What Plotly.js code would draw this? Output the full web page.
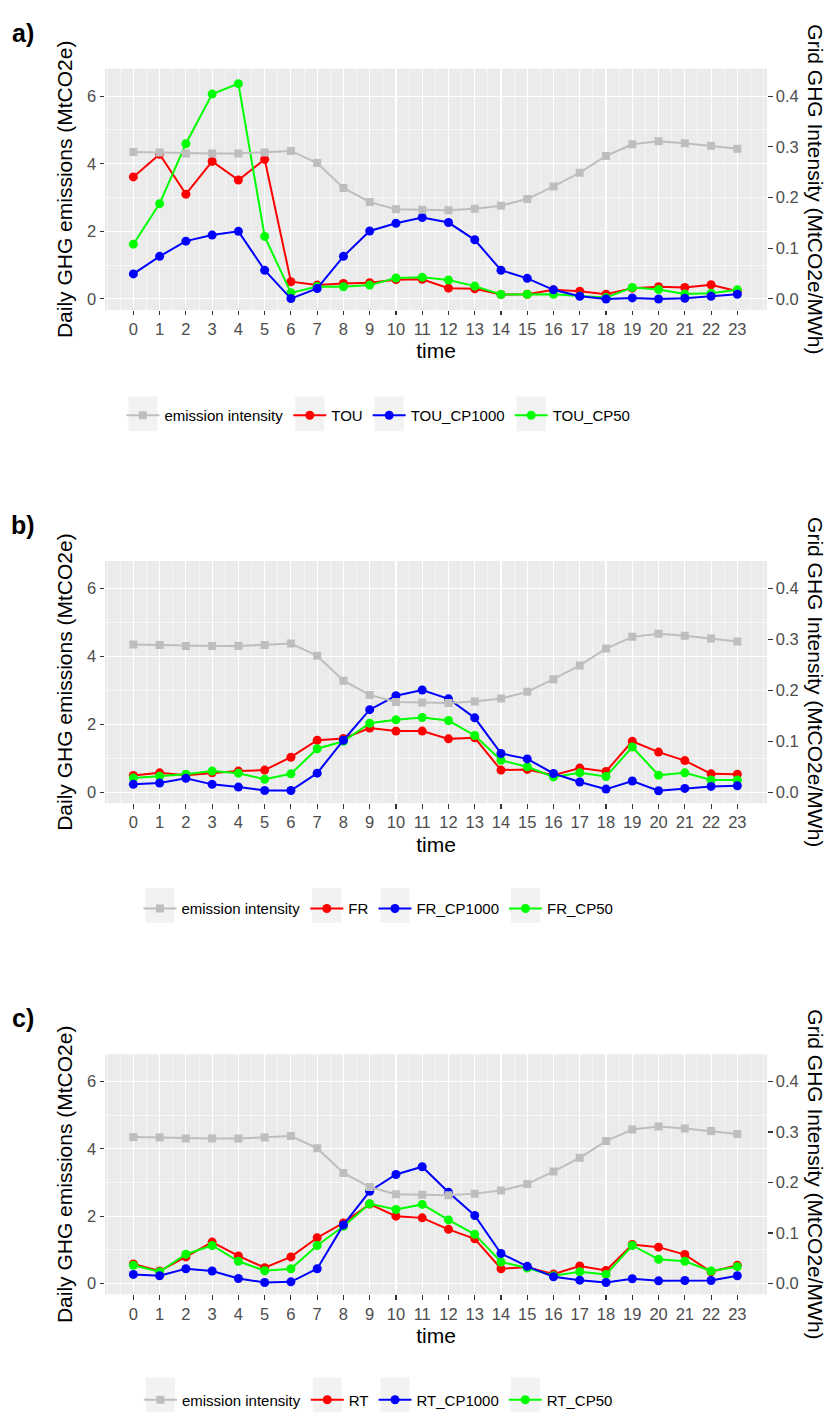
<!DOCTYPE html>
<html>
<head>
<meta charset="utf-8">
<script src="https://cdn.plot.ly/plotly-3.0.1.min.js"></script>
<style>
html,body{margin:0;padding:0;background:#fff;}
#chart{width:829px;height:1417px;}
</style>
</head>
<body>
<div id="chart"></div>
<script>
// ---------- data ----------
const hours = [0,1,2,3,4,5,6,7,8,9,10,11,12,13,14,15,16,17,18,19,20,21,22,23];
const hourLabels = ["0","1","2","3","4","5","6","7","8","9","10","11","12","13","14","15","16","17","18","19","20","21","22","23"];
const intensity = [0.290,0.289,0.287,0.287,0.287,0.289,0.292,0.268,0.219,0.191,0.177,0.176,0.175,0.178,0.184,0.197,0.222,0.249,0.282,0.305,0.311,0.307,0.302,0.296];

const TOU        = [3.61,4.28,3.10,4.07,3.52,4.13,0.51,0.41,0.46,0.48,0.57,0.58,0.32,0.30,0.13,0.14,0.27,0.23,0.14,0.32,0.36,0.34,0.42,0.23];
const TOU_CP1000 = [0.74,1.26,1.71,1.89,2.00,0.85,0.01,0.31,1.26,2.01,2.24,2.41,2.26,1.75,0.85,0.61,0.27,0.08,0.00,0.03,0.00,0.02,0.08,0.14];
const TOU_CP50   = [1.62,2.82,4.59,6.06,6.37,1.85,0.18,0.37,0.36,0.41,0.62,0.64,0.56,0.38,0.13,0.14,0.14,0.09,0.04,0.34,0.28,0.15,0.17,0.27];

const FR         = [0.49,0.57,0.50,0.57,0.62,0.65,1.03,1.53,1.58,1.89,1.80,1.80,1.57,1.60,0.65,0.67,0.50,0.71,0.61,1.50,1.18,0.93,0.54,0.53];
const FR_CP1000  = [0.23,0.27,0.41,0.23,0.15,0.05,0.05,0.56,1.53,2.43,2.84,3.01,2.75,2.19,1.14,0.98,0.55,0.30,0.09,0.33,0.04,0.11,0.17,0.19];
const FR_CP50    = [0.42,0.47,0.53,0.62,0.56,0.38,0.54,1.28,1.50,2.03,2.13,2.20,2.11,1.67,0.94,0.75,0.45,0.57,0.46,1.33,0.50,0.57,0.36,0.36];

const RT         = [0.58,0.37,0.79,1.23,0.82,0.47,0.79,1.36,1.80,2.36,2.00,1.95,1.61,1.33,0.44,0.48,0.28,0.52,0.39,1.16,1.08,0.86,0.35,0.54];
const RT_CP1000  = [0.27,0.23,0.44,0.37,0.15,0.03,0.05,0.44,1.74,2.74,3.24,3.47,2.71,2.02,0.89,0.51,0.20,0.10,0.03,0.14,0.08,0.09,0.09,0.23];
const RT_CP50    = [0.54,0.35,0.87,1.13,0.66,0.38,0.44,1.13,1.70,2.37,2.20,2.35,1.89,1.46,0.64,0.46,0.23,0.35,0.27,1.13,0.72,0.66,0.37,0.50];

const panelLabels = ["a)","b)","c)"];
const panelSeries = [
  [["TOU",TOU],["TOU_CP1000",TOU_CP1000],["TOU_CP50",TOU_CP50]],
  [["FR",FR],["FR_CP1000",FR_CP1000],["FR_CP50",FR_CP50]],
  [["RT",RT],["RT_CP1000",RT_CP1000],["RT_CP50",RT_CP50]]
];

// ---------- styling / layout ----------
const W = 829, H = 1417, ML = 105, MR = 62;
const PW = W - ML - MR;
const FONT = "Liberation Sans, Arial, Helvetica, sans-serif";
const seriesColors = ["#FF0000","#0000FF","#00FF00"];
const greyCol = "#BEBEBE";
const panelPx = [[69,311],[563,806],[1058,1299]];
const legendPx = [417,912,1405];
const yRange = [-0.324, 6.81];
const secFactor = 15;

const traces = [];
const layout = {
  width: W, height: H,
  margin: {l:ML, r:MR, t:0, b:0},
  paper_bgcolor: "#FFFFFF",
  plot_bgcolor: "#EBEBEB",
  font: {family: FONT, color: "#000000"},
  showlegend: true,
  annotations: [],
  hovermode: false
};

for (let i = 0; i < 3; i++) {
  const xName = i === 0 ? "x" : "x" + (i+1);
  const xKey = i === 0 ? "xaxis" : "xaxis" + (i+1);
  const yP = i === 0 ? "y" : "y" + (2*i+1);
  const yPKey = i === 0 ? "yaxis" : "yaxis" + (2*i+1);
  const yS = "y" + (2*i+2);
  const ySKey = "yaxis" + (2*i+2);
  const legName = i === 0 ? "legend" : "legend" + (i+1);
  const dom = [1 - panelPx[i][1]/H, 1 - panelPx[i][0]/H];

  // draw order: red, green, blue, then grey (overlay on top)
  [0,2,1].forEach(k => {
    const [nm, vals] = panelSeries[i][k];
    traces.push({
      type: "scatter", mode: "lines+markers",
      x: hours, y: vals, name: nm,
      xaxis: xName, yaxis: yP, legend: legName, legendrank: k+2,
      line: {color: seriesColors[k], width: 2},
      marker: {color: seriesColors[k], size: 9, symbol: "circle"}
    });
  });
  traces.push({
    type: "scatter", mode: "lines+markers",
    x: hours, y: intensity, name: "emission intensity",
    xaxis: xName, yaxis: yS, legend: legName, legendrank: 1,
    line: {color: greyCol, width: 2},
    marker: {color: greyCol, size: 8, symbol: "square"}
  });

  layout[xKey] = {
    domain: [0,1], anchor: yP, range: [-1.08, 24.13],
    tickmode: "array", tickvals: hours, ticktext: hourLabels,
    ticks: "outside", ticklen: 4.5, tickwidth: 1.1, tickcolor: "#333333",
    tickfont: {size: 16.5, color: "#4D4D4D", family: FONT},
    showgrid: true, gridcolor: "#FFFFFF", gridwidth: 1.1,
    minor: {tickmode: "linear", tick0: 0, dtick: 0.5, showgrid: true, gridcolor: "#FFFFFF", gridwidth: 0.55, ticks: ""},
    zeroline: false, showline: false, automargin: false,
    title: {text: "time", font: {size: 21, color: "#000000", family: FONT}, standoff: 6}
  };
  layout[yPKey] = {
    domain: dom, anchor: xName, range: yRange,
    tickmode: "linear", tick0: 0, dtick: 2,
    ticks: "outside", ticklen: 4.5, tickwidth: 1.1, tickcolor: "#333333",
    tickfont: {size: 16.5, color: "#4D4D4D", family: FONT},
    showgrid: true, gridcolor: "#FFFFFF", gridwidth: 1.1,
    minor: {tickmode: "linear", tick0: 0, dtick: 1, showgrid: true, gridcolor: "#FFFFFF", gridwidth: 0.55, ticks: ""},
    zeroline: false, showline: false, automargin: false,
    title: {text: "Daily GHG emissions (MtCO2e)", font: {size: 21, color: "#000000", family: FONT}, standoff: 8}
  };
  layout[ySKey] = {
    overlaying: yP, side: "right", anchor: xName,
    range: [yRange[0]/secFactor, yRange[1]/secFactor],
    tickmode: "linear", tick0: 0, dtick: 0.1, tickformat: ".1f",
    ticks: "outside", ticklen: 4.5, tickwidth: 1.1, tickcolor: "#333333",
    tickfont: {size: 16.5, color: "#4D4D4D", family: FONT},
    showgrid: false, zeroline: false, showline: false, automargin: false
  };
  layout[legName] = {
    orientation: "h", x: 0.413, xanchor: "center",
    y: 1 - legendPx[i]/H, yanchor: "middle",
    font: {size: 15, color: "#000000", family: FONT},
    bgcolor: "rgba(0,0,0,0)", traceorder: "normal", itemwidth: 33
  };
  layout.annotations.push({
    xref: "paper", yref: "paper", x: (816-ML)/PW, y: 1 - (panelPx[i][0]+panelPx[i][1])/2/H,
    text: "Grid GHG Intensity (MtCO2e/MWh)", textangle: 90, showarrow: false,
    xanchor: "center", yanchor: "middle",
    font: {size: 21, color: "#000000", family: FONT}
  });
  layout.annotations.push({
    xref: "paper", yref: "paper", x: (23-ML)/PW, y: 1 - (panelPx[i][0]-36)/H,
    text: "<b>" + panelLabels[i] + "</b>", showarrow: false,
    xanchor: "center", yanchor: "middle",
    font: {size: 25, color: "#000000", family: FONT}
  });
}

Plotly.newPlot("chart", traces, layout, {displayModeBar: false, staticPlot: true}).then(gd => {
  // legend key background boxes (ggplot-style), placed behind each rendered legend symbol
  const root = gd.getBoundingClientRect();
  const shapes = [];
  gd.querySelectorAll("g.legendpoints").forEach(g => {
    const r = g.getBoundingClientRect();
    const cx = (r.left + r.right)/2 - root.left;
    const cy = (r.top + r.bottom)/2 - root.top;
    shapes.push({
      type: "rect", xref: "paper", yref: "paper", layer: "below",
      x0: (cx - 14.5 - ML)/PW, x1: (cx + 14.5 - ML)/PW,
      y0: 1 - (cy + 17.5)/H, y1: 1 - (cy - 17.5)/H,
      fillcolor: "#F2F2F2", line: {width: 0}
    });
  });
  return Plotly.relayout(gd, {shapes: shapes});
});
</script>
</body>
</html>
